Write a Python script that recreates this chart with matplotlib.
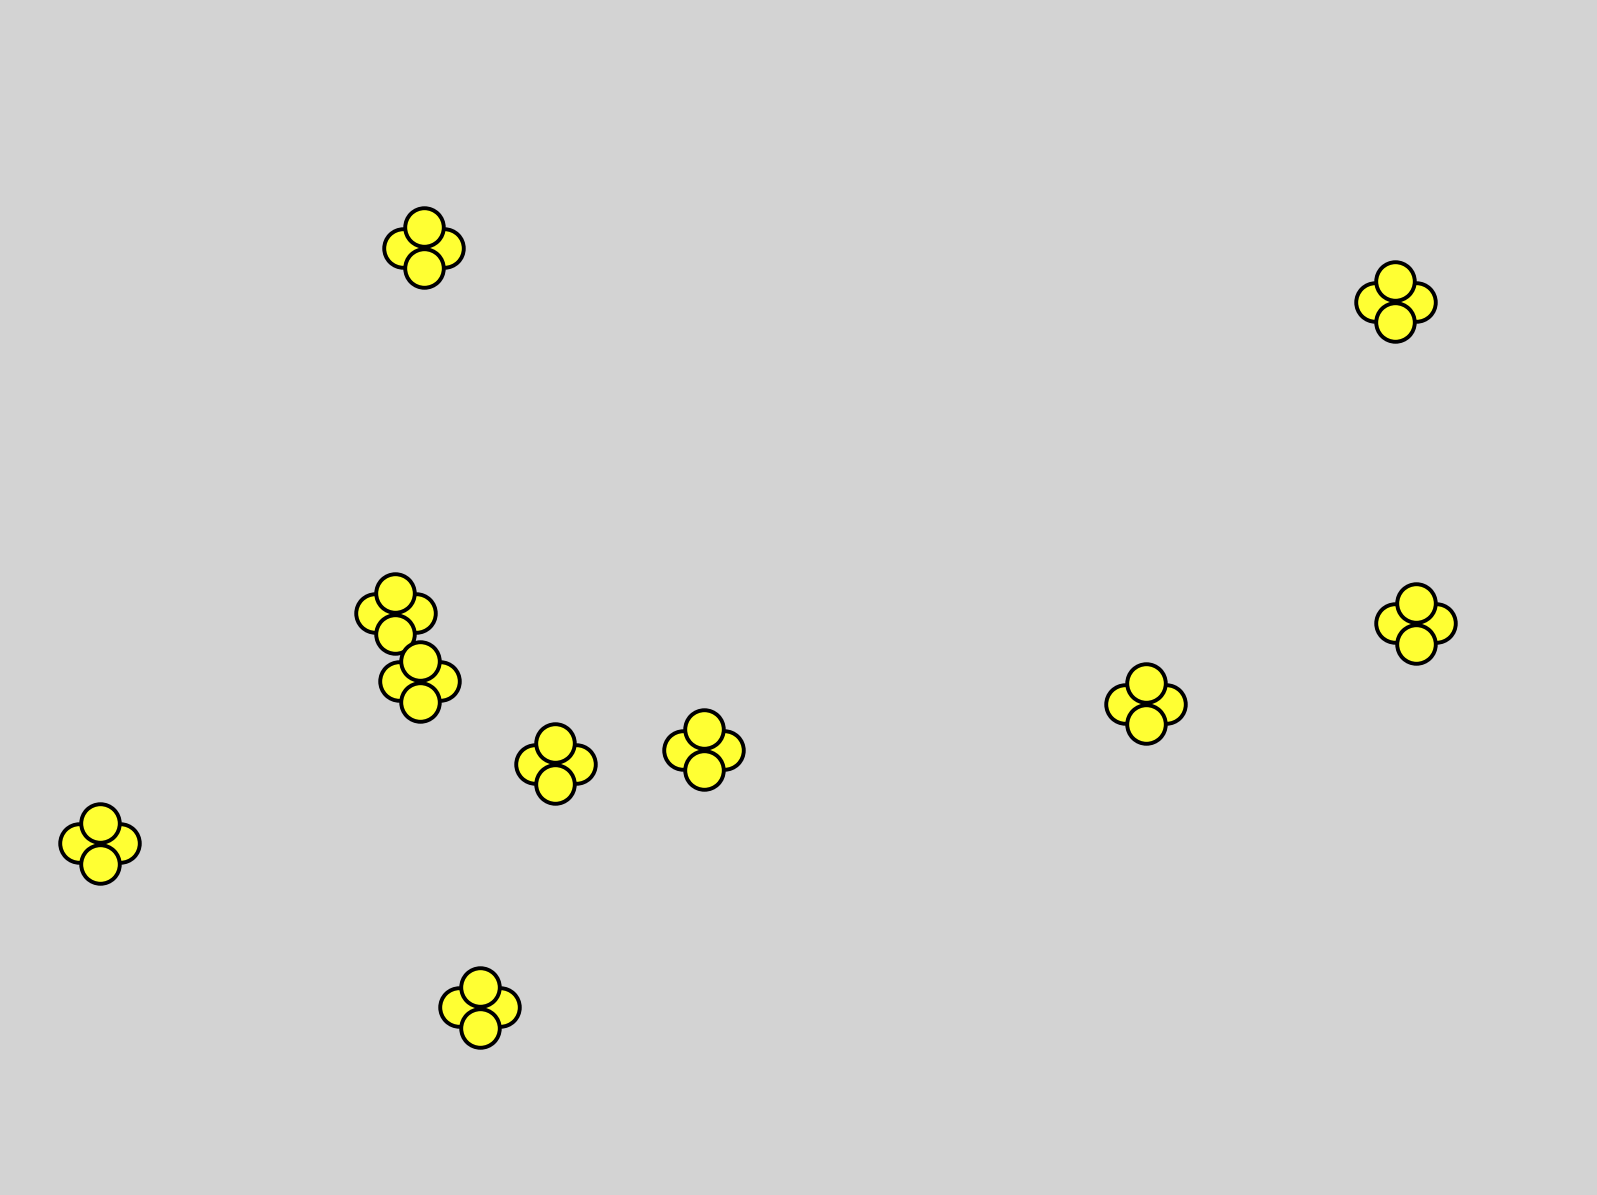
import numpy as np
import matplotlib
matplotlib.use("Agg")
import matplotlib.pyplot as plt

# cluster centres, in image pixels (x right, y down)
cx = [423.7, 1395.3, 395.2, 419.6, 555.1, 703.8, 1145.8, 1415.7, 99.8, 479.7]
cy = [247.5, 301.5, 613.1, 681.4, 763.9, 749.6, 703.8, 623.3, 843.3, 1007.3]

# each cluster is four points: left, right, top, bottom
dx = [-20.5, 20.5, 0.0, 0.0]
dy = [0.0, 0.0, -20.5, 20.5]

W, H = 1597, 1195
fig = plt.figure(figsize=(W / 100, H / 100), dpi=100)
fig.patch.set_facecolor("#d3d3d3")
ax = fig.add_axes([0, 0, 1, 1])
ax.set_facecolor("#d3d3d3")
ax.set_xlim(0, W)
ax.set_ylim(H, 0)
ax.axis("off")

z = 1
for x0, y0 in zip(cx, cy):
    for ox, oy in zip(dx, dy):
        ax.scatter([x0 + ox], [y0 + oy], s=770, c="#ffff33",
                   edgecolors="black", linewidths=2.8, zorder=z)
        z += 1

fig.savefig("out.png", dpi=100, facecolor=fig.get_facecolor())
